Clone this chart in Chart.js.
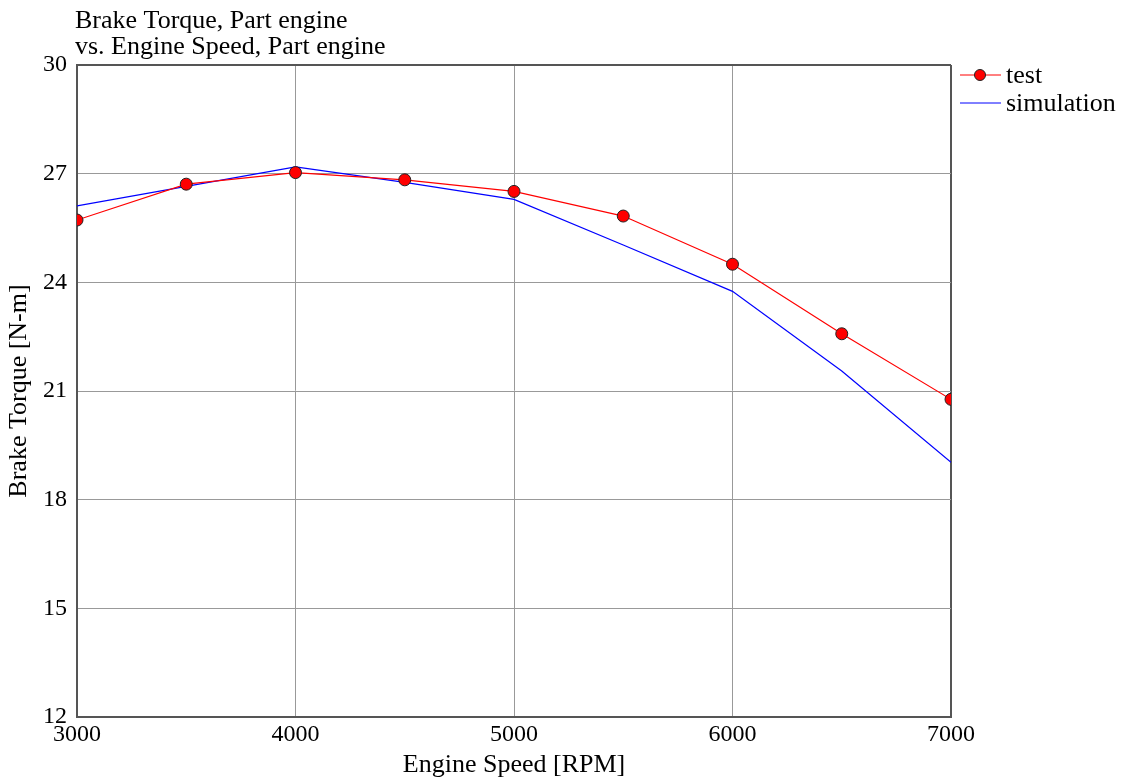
<!DOCTYPE html>
<html>
<head>
<meta charset="utf-8">
<script src="https://cdn.jsdelivr.net/npm/chart.js@4/dist/chart.umd.min.js"></script>
<style>
  html, body { margin: 0; padding: 0; background: #fff; }
  canvas { display: block; }
</style>
</head>
<body>
<canvas id="torque" width="1123" height="783"></canvas>
<script>
// engine speed [RPM]
const speeds = [3000, 3500, 4000, 4500, 5000, 5500, 6000, 6500, 7000];
// brake torque [N-m]
const testTorque = [25.72, 26.71, 27.03, 26.83, 26.51, 25.83, 24.50, 22.58, 20.77];
const simTorque = [26.11, 26.65, 27.19, 26.76, 26.29, 25.03, 23.75, 21.55, 19.03];
const titleLines = ['Brake Torque, Part engine', 'vs. Engine Speed, Part engine'];
const yTicks = [12, 15, 18, 21, 24, 27, 30];
const xTicks = [3000, 4000, 5000, 6000, 7000];

const font = 'Liberation Serif, Times New Roman, serif';

const pts = (ys) => speeds.map((x, i) => ({ x: x, y: ys[i] }));

// draws the title and the legend like the original tool does
const decorations = {
    id: 'decorations',
    afterDraw(chart) {
        const c = chart.ctx;
        const area = chart.chartArea;
        c.save();
        c.fillStyle = '#000';
        c.font = '26px ' + font;
        c.textBaseline = 'alphabetic';
        c.textAlign = 'left';
        c.fillText(titleLines[0], 75, 28);
        c.fillText(titleLines[1], 75, 54);

        // legend
        const lx = area.right + 9;
        chart.data.datasets.forEach((ds, i) => {
            const ly = 75 + i * 28;
            c.strokeStyle = ds.borderColor;
            c.lineWidth = 1;
            c.beginPath();
            c.moveTo(lx, ly);
            c.lineTo(lx + 41, ly);
            c.stroke();
            if (ds.pointRadius > 0) {
                c.beginPath();
                c.arc(lx + 20, ly, 5.5, 0, Math.PI * 2);
                c.fillStyle = ds.pointBackgroundColor;
                c.fill();
                c.strokeStyle = ds.pointBorderColor;
                c.stroke();
            }
            c.fillStyle = '#000';
            c.font = '26px ' + font;
            c.textBaseline = 'middle';
            c.fillText(ds.label, lx + 46, ly + 1);
        });
        c.restore();
    }
};

const edge = (v, lo, hi) => (v === lo || v === hi) ? '#555' : '#999';

new Chart(document.getElementById('torque'), {
    type: 'line',
    data: {
        datasets: [{
            label: 'test',
            data: pts(testTorque),
            borderColor: '#ff0000',
            borderWidth: 1.2,
            pointRadius: 6,
            pointBackgroundColor: '#ff0000',
            pointBorderColor: '#222',
            pointBorderWidth: 1,
            tension: 0
        }, {
            label: 'simulation',
            data: pts(simTorque),
            borderColor: '#0000ff',
            borderWidth: 1.2,
            pointRadius: 0,
            pointBackgroundColor: '#0000ff',
            pointBorderColor: '#0000ff',
            tension: 0
        }]
    },
    options: {
        responsive: false,
        animation: false,
        maintainAspectRatio: false,
        layout: { padding: { top: 65, right: 172, left: 0, bottom: 0 } },
        plugins: {
            legend: { display: false },
            title: { display: false },
            tooltip: { enabled: false }
        },
        scales: {
            x: {
                type: 'linear',
                min: 3000,
                max: 7000,
                afterBuildTicks: (s) => { s.ticks = xTicks.map(v => ({ value: v })); },
                afterFit: (s) => { s.height = 66; },
                grid: {
                    color: (ctx) => edge(ctx.tick && ctx.tick.value, 3000, 7000),
                    lineWidth: (ctx) => (ctx.tick && (ctx.tick.value === 7000)) ? 2 : 1,
                    drawTicks: false
                },
                border: { color: '#555', width: 2 },
                ticks: {
                    color: '#000',
                    padding: 3,
                    maxRotation: 0,
                    callback: (v) => String(v),
                    font: { family: font, size: 24 }
                },
                title: {
                    display: true,
                    text: 'Engine Speed [RPM]',
                    color: '#000',
                    padding: { top: 0, bottom: 2 },
                    font: { family: font, size: 26 }
                }
            },
            y: {
                min: 12,
                max: 30,
                afterBuildTicks: (s) => { s.ticks = yTicks.map(v => ({ value: v })); },
                afterFit: (s) => { s.width = 77; },
                grid: {
                    color: (ctx) => edge(ctx.tick && ctx.tick.value, 12, 30),
                    lineWidth: (ctx) => (ctx.tick && (ctx.tick.value === 30)) ? 2 : 1,
                    drawTicks: false
                },
                border: { color: '#555', width: 2 },
                ticks: {
                    color: '#000',
                    padding: 10,
                    callback: (v) => String(v),
                    font: { family: font, size: 24 }
                },
                title: {
                    display: true,
                    text: 'Brake Torque [N-m]',
                    color: '#000',
                    padding: { top: 4, bottom: 0 },
                    font: { family: font, size: 26 }
                }
            }
        }
    },
    plugins: [decorations]
});
</script>
</body>
</html>
